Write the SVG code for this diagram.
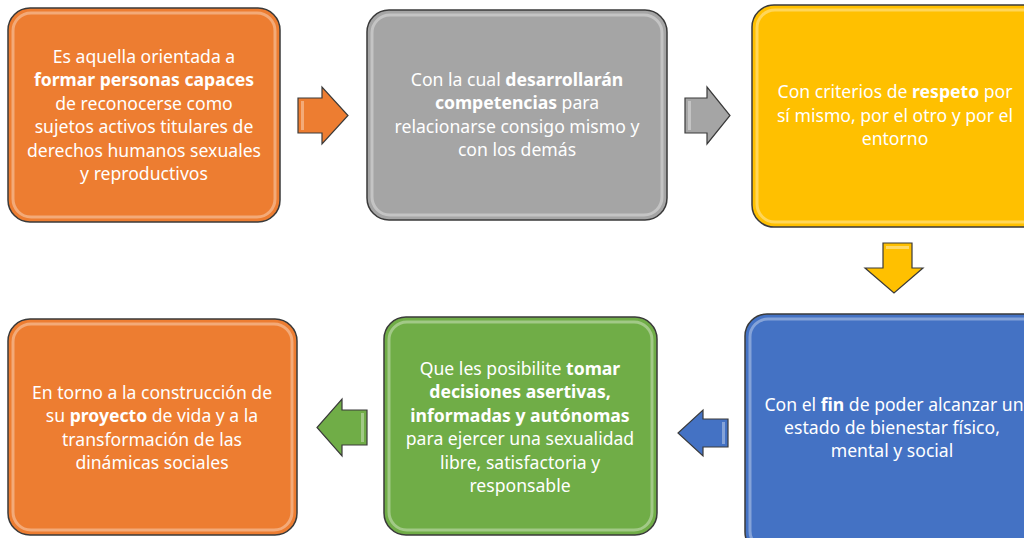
<svg xmlns="http://www.w3.org/2000/svg" width="1024" height="538" viewBox="0 0 1024 538">
<style>
.box{stroke:#3a3a3a;stroke-width:1.5}
.hl{fill:none;stroke:#ffffff;stroke-opacity:0.35;stroke-width:3}
.t{font-family:"Comic Sans MS","Noto Sans",sans-serif;font-size:17.6px;fill:#ffffff;text-anchor:middle}
.b{font-weight:bold}
.arr{stroke:#3a3a3a;stroke-width:1.2}
</style>
<rect width="1024" height="538" fill="#ffffff"/>
<g id="node1">
<rect class="box" x="8" y="8" width="272" height="214" rx="22" fill="#ED7D31"/>
<rect class="hl" x="13" y="13" width="262" height="204" rx="18"/>
<text class="t" x="144" y="63">Es aquella orientada a</text>
<text class="t" x="144" y="86"><tspan class="b">formar personas capaces</tspan></text>
<text class="t" x="144" y="110">de reconocerse como</text>
<text class="t" x="144" y="133">sujetos activos titulares de</text>
<text class="t" x="144" y="157">derechos humanos sexuales</text>
<text class="t" x="144" y="180">y reproductivos</text>
</g>
<g id="node2">
<rect class="box" x="367" y="10" width="300" height="210" rx="22" fill="#A5A5A5"/>
<rect class="hl" x="372" y="15" width="290" height="200" rx="18"/>
<text class="t" x="517" y="86">Con la cual <tspan class="b">desarrollarán</tspan></text>
<text class="t" x="517" y="109"><tspan class="b">competencias</tspan> para</text>
<text class="t" x="517" y="133">relacionarse consigo mismo y</text>
<text class="t" x="517" y="156">con los demás</text>
</g>
<g id="node3">
<rect class="box" x="752" y="5" width="300" height="222" rx="22" fill="#FFC000"/>
<rect class="hl" x="757" y="10" width="290" height="212" rx="18"/>
<text class="t" x="895" y="98">Con criterios de <tspan class="b">respeto</tspan> por</text>
<text class="t" x="895" y="122">sí mismo, por el otro y por el</text>
<text class="t" x="895" y="145">entorno</text>
</g>
<g id="node4">
<rect class="box" x="745" y="314" width="300" height="240" rx="22" fill="#4472C4"/>
<rect class="hl" x="750" y="319" width="290" height="230" rx="18"/>
<text class="t" x="894" y="411">Con el <tspan class="b">fin</tspan> de poder alcanzar un</text>
<text class="t" x="892" y="434">estado de bienestar físico,</text>
<text class="t" x="892" y="457">mental y social</text>
</g>
<g id="node5">
<rect class="box" x="384" y="317" width="273" height="218" rx="22" fill="#70AD47"/>
<rect class="hl" x="389" y="322" width="263" height="208" rx="18"/>
<text class="t" x="520" y="375">Que les posibilite <tspan class="b">tomar</tspan></text>
<text class="t" x="520" y="398"><tspan class="b">decisiones asertivas,</tspan></text>
<text class="t" x="520" y="422"><tspan class="b">informadas y autónomas</tspan></text>
<text class="t" x="520" y="445">para ejercer una sexualidad</text>
<text class="t" x="520" y="469">libre, satisfactoria y</text>
<text class="t" x="520" y="492">responsable</text>
</g>
<g id="node6">
<rect class="box" x="8" y="319" width="289" height="216" rx="22" fill="#ED7D31"/>
<rect class="hl" x="13" y="324" width="279" height="206" rx="18"/>
<text class="t" x="152" y="399">En torno a la construcción de</text>
<text class="t" x="152" y="422">su <tspan class="b">proyecto</tspan> de vida y a la</text>
<text class="t" x="152" y="446">transformación de las</text>
<text class="t" x="152" y="469">dinámicas sociales</text>
</g>
<g id="connectors">
<path class="arr" fill="#ED7D31" d="M298,98 L322,98 L322,87 L348,115.5 L322,144 L322,133 L298,133 Z"/>
<path fill="#ffffff" fill-opacity="0.35" d="M301,101 L304,101 L304,130 L301,130 Z"/>
<path class="arr" fill="#A5A5A5" d="M685,98 L707,98 L707,87 L730,115.5 L707,144 L707,133 L685,133 Z"/>
<path fill="#ffffff" fill-opacity="0.35" d="M688,101 L691,101 L691,130 L688,130 Z"/>
<path class="arr" fill="#FFC000" d="M883,243 L912,243 L912,268 L923,268 L894,293 L865,268 L883,268 Z"/>
<path fill="#ffffff" fill-opacity="0.4" d="M886,246 L909,246 L909,249 L886,249 Z"/>
<path class="arr" fill="#4472C4" d="M728,419 L703,419 L703,410 L678,433 L703,456 L703,447 L728,447 Z"/>
<path fill="#ffffff" fill-opacity="0.35" d="M722,422 L725,422 L725,444 L722,444 Z"/>
<path class="arr" fill="#70AD47" d="M367,410 L342,410 L342,399 L317,427.5 L342,456 L342,445 L367,445 Z"/>
<path fill="#ffffff" fill-opacity="0.35" d="M361,413 L364,413 L364,442 L361,442 Z"/>
</g>
</svg>
